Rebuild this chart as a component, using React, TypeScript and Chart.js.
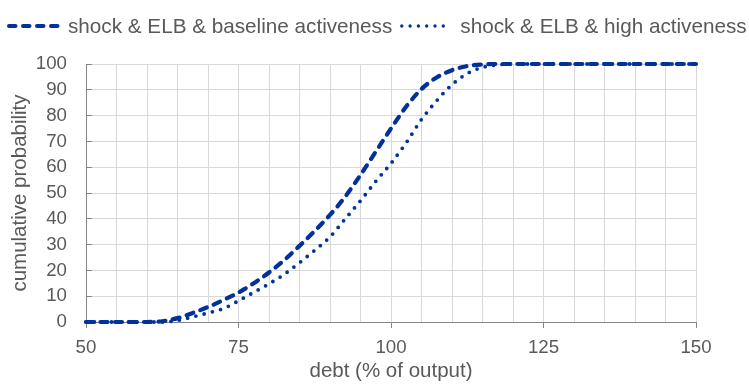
import React, { useEffect, useRef } from "react";
import { Chart, registerables } from "chart.js";

Chart.register(...registerables);

const debtLevels = [
  50, 52.5, 55, 57.5, 60, 62.5, 65, 67.5, 70, 72.5, 75, 77.5, 80, 82.5, 85, 87.5, 90, 92.5, 95, 97.5,
  100, 102.5, 105, 107.5, 110, 112.5, 115, 117.5, 120, 122.5, 125, 127.5, 130, 132.5, 135, 137.5, 140,
  142.5, 145, 147.5, 150,
];
const baselineProb = [
  0, 0, 0, 0, 0, 0.3, 1.5, 3.5, 5.8, 8.5, 11.4, 15, 19.2, 24, 29.5, 35.3, 41.5, 48.6, 57, 66,
  75, 83.5, 90.3, 94.8, 97.6, 99.2, 99.8, 100, 100, 100, 100, 100, 100, 100, 100, 100, 100,
  100, 100, 100, 100,
];
const highProb = [
  0, 0, 0, 0, 0, 0, 0.6, 2, 3.5, 5.2, 8.2, 11.5, 14.8, 18.5, 23, 27.8, 33, 40, 47, 54.5,
  61.5, 69.5, 78.5, 85.8, 92, 96.3, 98.7, 99.7, 100, 100, 100, 100, 100, 100, 100, 100, 100,
  100, 100, 100, 100,
];
const seriesLabels = ["shock & ELB & baseline activeness", "shock & ELB & high activeness"];
const xTickLabels = [50, 75, 100, 125, 150];

const BLUE = "#003299";
const TEXT = "#595959";
const FONT = "'Liberation Sans', Arial, sans-serif";

export default function App() {
  const ref = useRef<HTMLCanvasElement | null>(null);

  useEffect(() => {
    if (!ref.current) return;
    const chart = new Chart(ref.current, {
      type: "line",
      data: {
        datasets: [
          {
            label: seriesLabels[0],
            data: debtLevels.map((x, i) => ({ x, y: baselineProb[i] })),
            borderColor: BLUE,
            borderWidth: 4.2,
            borderDash: [7, 7.5],
            borderCapStyle: "round",
            pointRadius: 0,
            cubicInterpolationMode: "monotone",
            clip: false,
          },
          {
            label: seriesLabels[1],
            data: debtLevels.map((x, i) => ({ x, y: highProb[i] })),
            borderColor: BLUE,
            borderWidth: 3.8,
            borderDash: [0, 8.5],
            borderCapStyle: "round",
            pointRadius: 0,
            cubicInterpolationMode: "monotone",
            clip: false,
          },
        ],
      },
      options: {
        animation: false,
        responsive: true,
        maintainAspectRatio: false,
        layout: { padding: { top: 64, right: 53, bottom: 0, left: 0 } },
        plugins: { legend: { display: false }, tooltip: { enabled: false } },
        scales: {
          x: {
            type: "linear",
            min: 50,
            max: 150,
            afterFit: (s: any) => {
              s.height = 62;
            },
            ticks: {
              stepSize: 5,
              autoSkip: false,
              maxRotation: 0,
              padding: 9,
              color: TEXT,
              font: { family: FONT, size: 18.7 },
              callback: (v: any) => (xTickLabels.includes(Number(v)) ? String(v) : ""),
            },
            grid: {
              color: "#d9d9d9",
              lineWidth: 1,
              drawTicks: true,
              tickLength: 6,
              tickColor: (ctx: any) =>
                ctx.tick && xTickLabels.includes(ctx.tick.value) ? "#868686" : "rgba(0,0,0,0)",
            },
            border: { color: "#868686", width: 1 },
            title: {
              display: true,
              text: "debt (% of output)",
              color: TEXT,
              font: { family: FONT, size: 20.5 },
              padding: { top: 0, bottom: 0 },
            },
          },
          y: {
            min: 0,
            max: 100,
            afterFit: (s: any) => {
              s.width = 86;
            },
            ticks: {
              stepSize: 10,
              padding: 25,
              color: TEXT,
              font: { family: FONT, size: 18.7 },
            },
            grid: {
              color: "#d9d9d9",
              lineWidth: 1,
              drawTicks: true,
              tickLength: -6,
              tickColor: "#868686",
            },
            border: { color: "#868686", width: 1 },
            title: {
              display: true,
              text: "cumulative probability",
              color: TEXT,
              font: { family: FONT, size: 20.5 },
              padding: { top: 8, bottom: 0 },
            },
          },
        },
      },
    });
    return () => chart.destroy();
  }, []);

  const legendText: React.CSSProperties = {
    fontFamily: FONT,
    fontSize: "20.7px",
    color: TEXT,
    whiteSpace: "nowrap",
    lineHeight: "24px",
  };

  return (
    <div style={{ position: "fixed", left: 0, top: 0, width: 749, height: 384, background: "#fff" }}>
      <canvas ref={ref} />
      <div
        style={{
          position: "absolute",
          left: 7,
          top: 14,
          display: "flex",
          alignItems: "center",
          height: 24,
        }}
      >
        <svg width={56} height={8} style={{ display: "block" }}>
          <line x1={2} y1={4} x2={54} y2={4} stroke={BLUE} strokeWidth={4} strokeDasharray="6.5 7.5" strokeLinecap="round" />
        </svg>
        <span style={{ ...legendText, marginLeft: 5 }}>{seriesLabels[0]}</span>
        <svg width={52} height={8} style={{ display: "block", marginLeft: 8 }}>
          <line x1={1.8} y1={4} x2={51} y2={4} stroke={BLUE} strokeWidth={3.4} strokeDasharray="0 8.3" strokeLinecap="round" />
        </svg>
        <span style={{ ...legendText, marginLeft: 8 }}>{seriesLabels[1]}</span>
      </div>
    </div>
  );
}
